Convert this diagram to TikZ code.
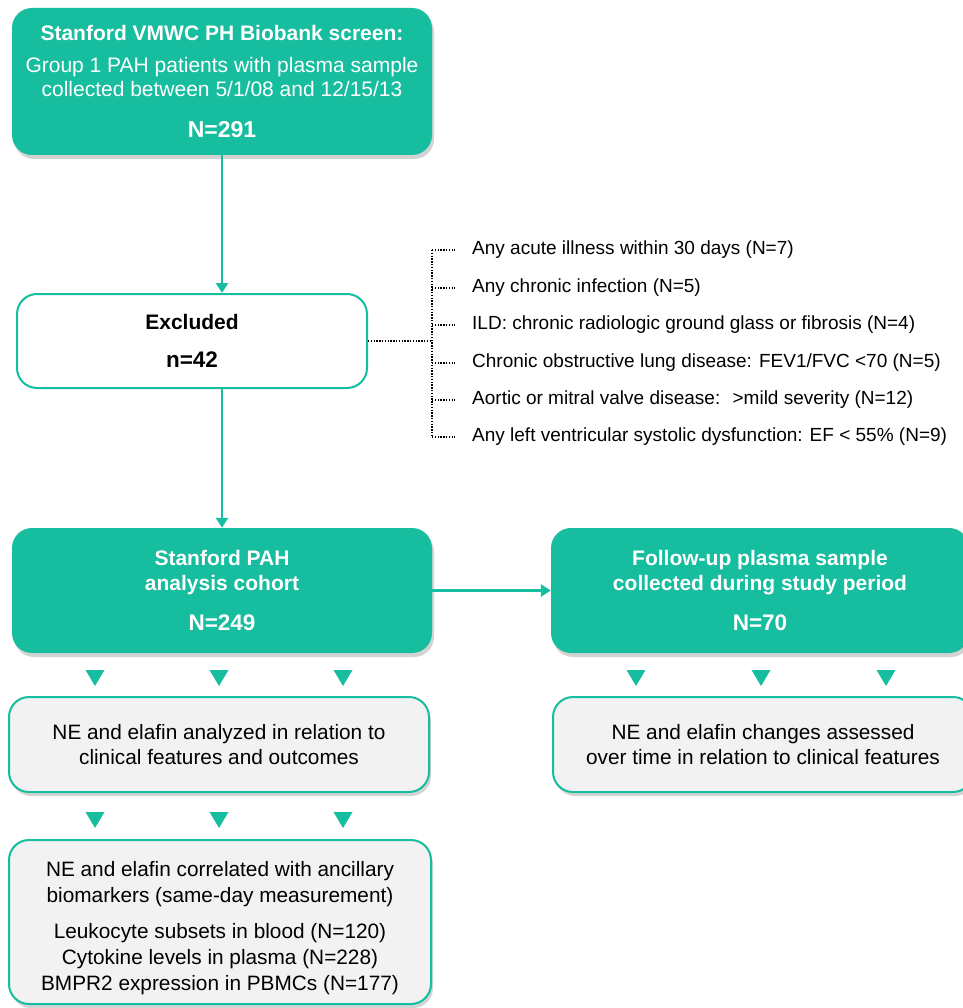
\documentclass[tikz,border=0pt]{standalone}
\usepackage{fontspec}
\setmainfont{Liberation Sans}
\usetikzlibrary{arrows.meta,shadows}

\definecolor{pahgreen}{HTML}{16BD9E}
\definecolor{boxgray}{HTML}{F2F2F2}

\tikzset{
    greenbox/.style={fill=pahgreen, rounded corners=20pt, text=white, align=center,
        inner sep=0pt, font=\bfseries\fontsize{21}{24.5}\selectfont,
        drop shadow={shadow xshift=2pt, shadow yshift=-4pt, opacity=0.35}},
    graybox/.style={draw=pahgreen, line width=2pt, fill=boxgray, rounded corners=20pt,
        align=center, inner sep=0pt, font=\fontsize{20.8}{25}\selectfont,
        drop shadow={shadow xshift=2pt, shadow yshift=-4pt, opacity=0.35}},
    whitebox/.style={draw=pahgreen, line width=2pt, fill=white, rounded corners=20pt,
        align=center, inner sep=0pt, font=\bfseries\fontsize{21}{24}\selectfont},
    flow/.style={draw=pahgreen, line width=2.7pt, -{Triangle[length=10pt,width=12pt]}},
    dotline/.style={line width=1.4pt, dash pattern=on 1.4pt off 1.4pt},
    pointer/.style={fill=pahgreen},
}

\begin{document}
\begin{tikzpicture}[x=1pt, y=-1pt]
    \useasboundingbox (0,0) rectangle (962,1008);

    \node[greenbox, minimum width=420pt, minimum height=147pt] at (222,81.5) (screen)
        {Stanford VMWC PH Biobank screen:\\[7pt]
         {\mdseries Group 1 PAH patients with plasma sample}\\
         {\mdseries collected between 5/1/08 and 12/15/13}\\[16pt]
         {\fontsize{23}{24}\selectfont N=291}};
    \node[whitebox, minimum width=350pt, minimum height=94pt] at (192,341) (excl)
        {Excluded\\[14pt] {\fontsize{22.5}{24}\selectfont n=42}};
    \node[greenbox, minimum width=420pt, minimum height=125pt] at (222,590.5) (cohort)
        {Stanford PAH\\ analysis cohort\\[16pt] {\fontsize{22.5}{24}\selectfont N=249}};
    \node[greenbox, minimum width=418pt, minimum height=125pt] at (760,590.5) (follow)
        {Follow-up plasma sample\\ collected during study period\\[16pt]
         {\fontsize{22.5}{24}\selectfont N=70}};
    \node[graybox, minimum width=420pt, minimum height=95pt] at (219,744.5) (clinical)
        {NE and elafin analyzed in relation to\\ clinical features and outcomes};
    \node[graybox, minimum width=420pt, minimum height=95pt] at (763,744.5) (change)
        {NE and elafin changes assessed\\ over time in relation to clinical features};
    \node[graybox, minimum width=422pt, minimum height=164pt] at (220,922) (ancillary)
        {\rule{0pt}{28pt}NE and elafin correlated with ancillary\\[1pt]
         biomarkers (same-day measurement)\\[11pt]
         Leukocyte subsets in blood (N=120)\\[1pt] Cytokine levels in plasma (N=228)\\[1pt]
         BMPR2 expression in PBMCs (N=177)};

    % main flow
    \draw[flow] (screen.south) -- (screen.south |- excl.north);
    \draw[flow] (screen.south |- excl.south) -- (screen.south |- cohort.north);
    \draw[flow] (cohort.east) -- (follow.west);

    % exclusion criteria
    \coordinate (t1) at (432,250);
    \coordinate (t6) at (432,437);
    \foreach \y/\txt [count=\i] in {250/{Any acute illness within 30 days (N=7)},
        288/{Any chronic infection (N=5)},
        325/{ILD: chronic radiologic ground glass or fibrosis (N=4)},
        363/{Chronic obstructive lung disease: FEV1/FVC <70 (N=5)},
        400/{Aortic or mitral valve disease: \ >mild severity (N=12)},
        437/{Any left ventricular systolic dysfunction: EF < 55\% (N=9)}} {
        \node[anchor=west, inner xsep=17pt, font=\fontsize{19}{22}\selectfont] at (455,\y) (ex\i) {\txt};
        \draw[dotline] (ex\i.west -| t1) -- (ex\i.west);
    }
    \draw[dotline] (t1) -- (t6);
    \draw[dotline] (excl.east) -- (excl.east -| t1);

    % small pointers between boxes
    \foreach \x in {95,219,343,636,761,886}
        \fill[pointer] (\x-9.5,670) -- (\x+9.5,670) -- (\x,686) -- cycle;
    \foreach \x in {95,219,343}
        \fill[pointer] (\x-9.5,812) -- (\x+9.5,812) -- (\x,828) -- cycle;
\end{tikzpicture}
\end{document}
